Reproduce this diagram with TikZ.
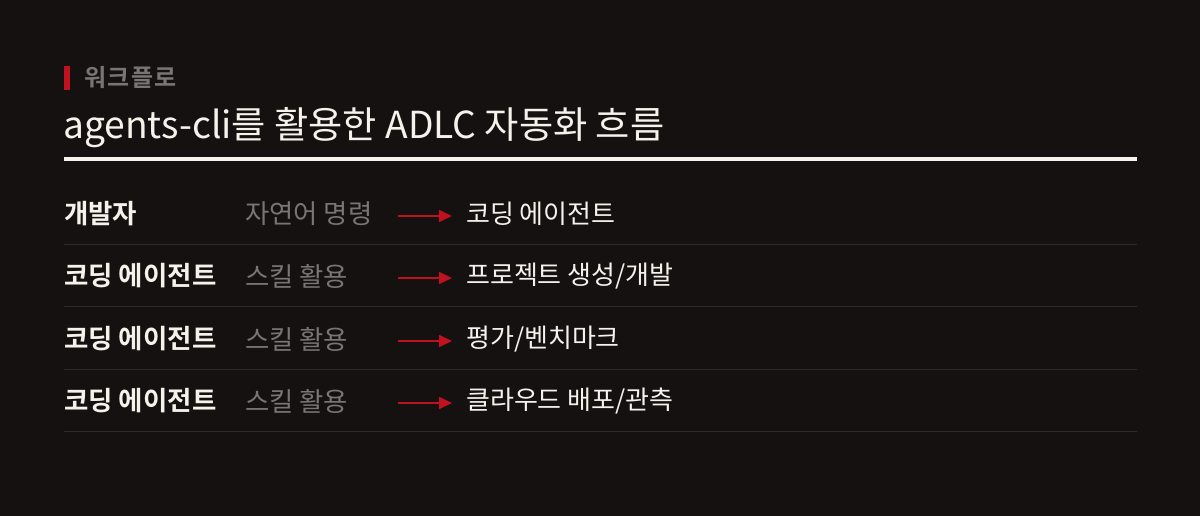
\documentclass[tikz,border=0pt]{standalone}
\usepackage{fontspec}
\setmainfont{Noto Sans CJK KR}[BoldFont={Noto Sans CJK KR Bold}]
\usetikzlibrary{arrows.meta}
\definecolor{bg}{HTML}{141110}
\definecolor{accent}{HTML}{C0121E}
\definecolor{fg}{HTML}{F5F2EC}
\definecolor{muted}{HTML}{7A7572}
\definecolor{rule}{HTML}{2E2A28}
\tikzset{
  x=1pt,y=-1pt,
  lbl/.style={anchor=west,inner sep=0pt,font=\fontsize{26.5}{30}\selectfont\bfseries,text=fg},
  act/.style={anchor=west,inner sep=0pt,font=\fontsize{26.4}{30}\selectfont,text=muted},
  res/.style={anchor=west,inner sep=0pt,font=\fontsize{26}{30}\selectfont,text=fg},
  flow/.style={draw=accent,line width=1.8pt,-{Triangle[length=13pt,width=12pt]}},
  sep/.style={draw=rule,line width=1pt}
}
\begin{document}
\begin{tikzpicture}
\fill[bg] (0,0) rectangle (1200,516);
\useasboundingbox (0,0) rectangle (1200,516);
\fill[accent] (64,66) rectangle (70,90);
\node[anchor=west,inner sep=0pt,font=\fontsize{24}{28}\selectfont\bfseries\addfontfeature{LetterSpace=6},text=muted] (kicker) at (84,78) {워크플로};
\node[anchor=west,inner sep=0pt,font=\fontsize{37.2}{42}\selectfont,text=fg] (title) at (63,128) {agents-cli를 활용한 ADLC 자동화 흐름};
\fill[fg] (64,157.5) rectangle (1137,161.5);
% rows
\foreach \y/\a/\b/\c/\n in {214/개발자/자연어 명령/코딩 에이전트/1, 276/코딩 에이전트/스킬 활용/프로젝트 생성\slash 개발/2, 339/코딩 에이전트/스킬 활용/평가\slash 벤치마크/3, 401/코딩 에이전트/스킬 활용/클라우드 배포\slash 관측/4}{
  \node[lbl] (a\n) at (64,\y) {\a};
  \node[act] (b\n) at (245,\y) {\b};
  \coordinate (s\n) at (398,\y+2);
  \coordinate (e\n) at (452,\y+2);
  \draw[flow] (s\n) -- (e\n);
  \node[res] (c\n) at (466,\y) {\c};
  \coordinate (l\n) at (64,\y+30.5);
  \coordinate (r\n) at (1137,\y+30.5);
  \draw[sep] (l\n) -- (r\n);
}
\end{tikzpicture}
\end{document}
